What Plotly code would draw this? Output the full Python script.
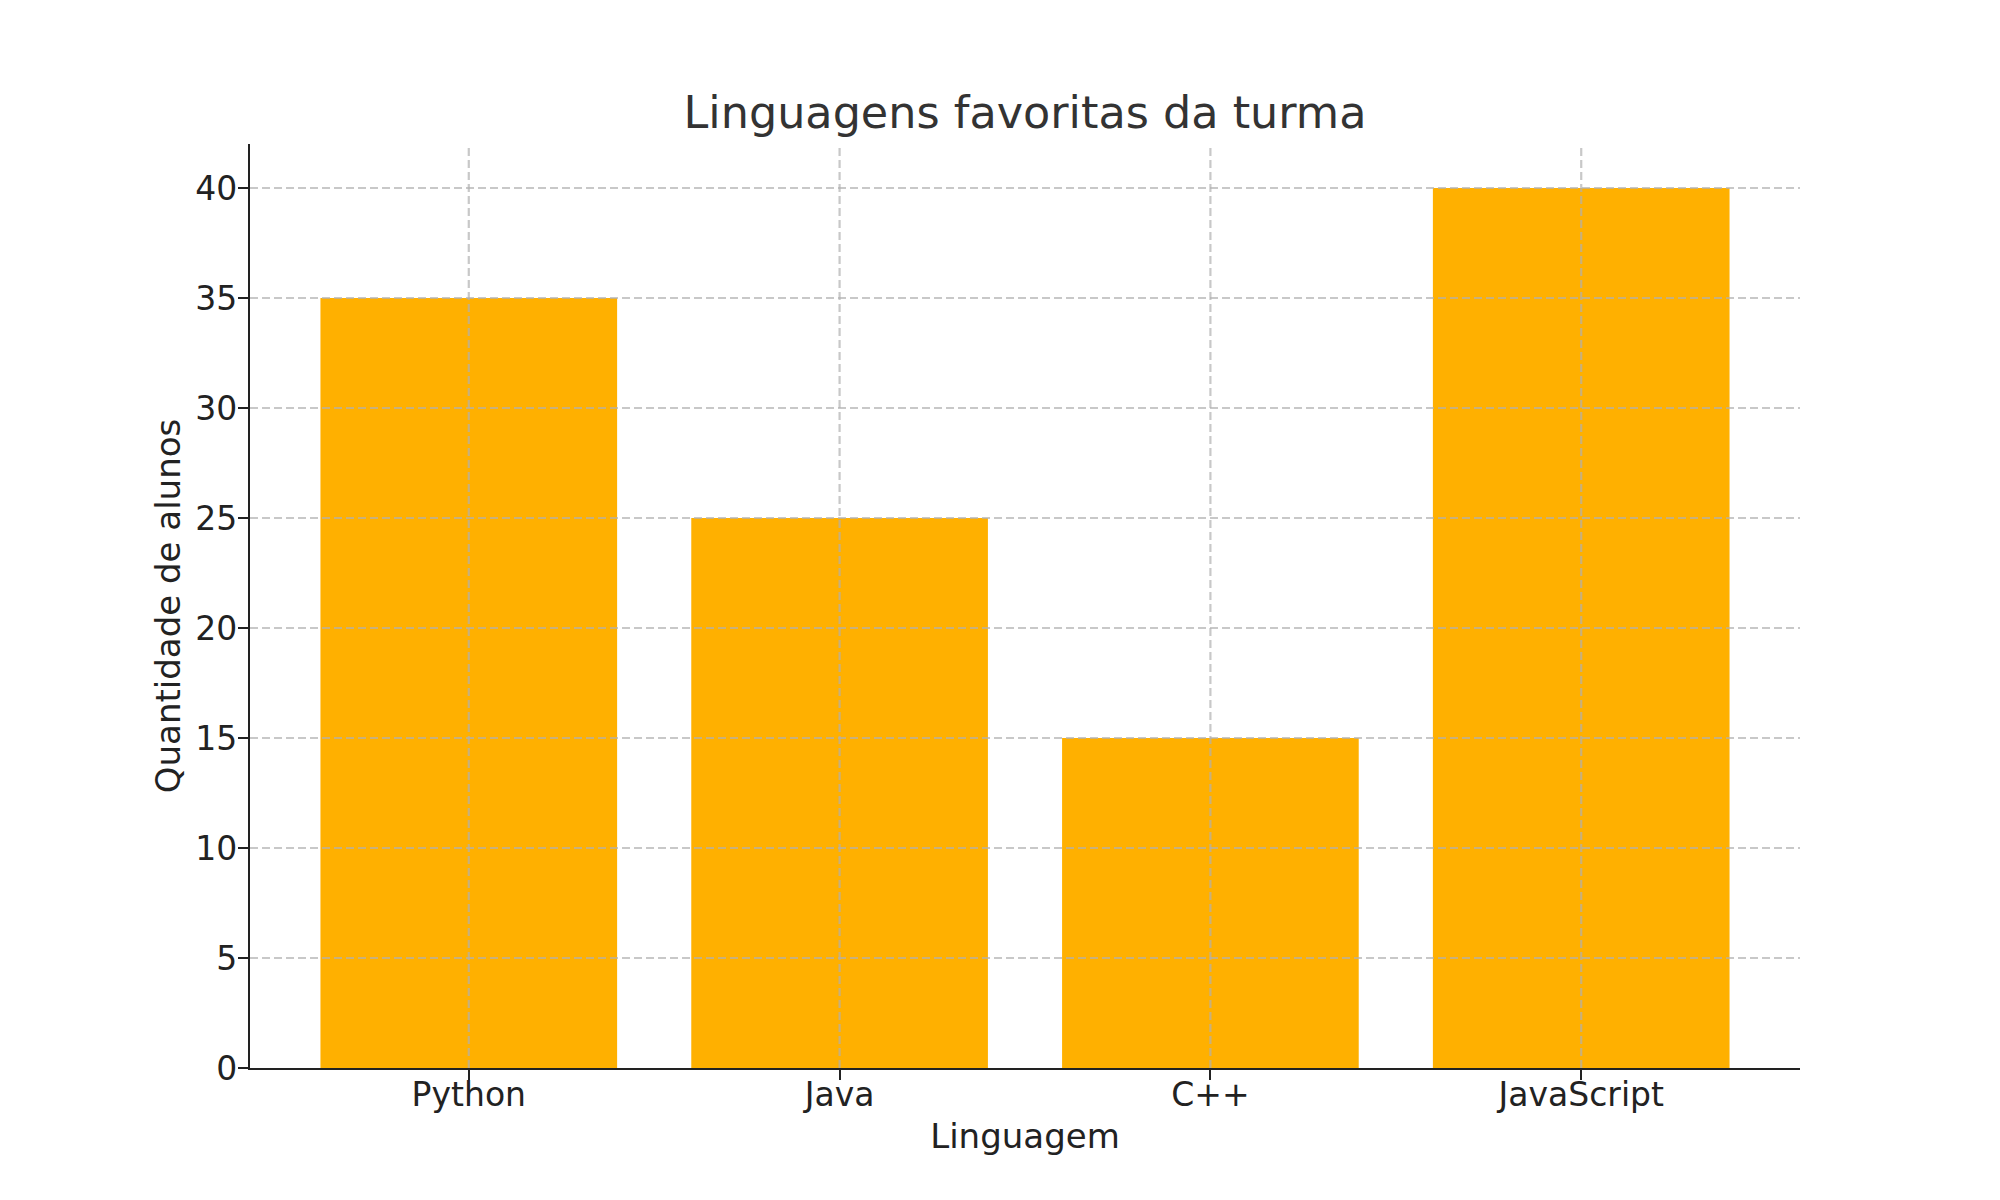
import plotly.graph_objects as go

categories = ["Python", "Java", "C++", "JavaScript"]
values = [35, 25, 15, 40]
y_ticks = [0, 5, 10, 15, 20, 25, 30, 35, 40]

BAR_COLOR = "#FFB000"
GRID_COLOR = "rgba(176,176,176,0.7)"
FONT = "DejaVu Sans"

fig = go.Figure()
fig.add_trace(go.Bar(x=list(range(len(categories))), y=values, width=0.8,
                     marker=dict(color=BAR_COLOR, line=dict(width=0)),
                     hoverinfo="x+y"))

shapes = []
for i in range(len(categories)):
    shapes.append(dict(type="line", xref="x", yref="paper", x0=i, x1=i, y0=0, y1=1,
                       line=dict(color=GRID_COLOR, width=2.2, dash="8px,4px"), layer="above"))
for t in y_ticks[1:]:
    shapes.append(dict(type="line", xref="paper", yref="y", x0=0, x1=1, y0=t, y1=t,
                       line=dict(color=GRID_COLOR, width=2.2, dash="8px,4px"), layer="above"))

fig.update_layout(
    width=2000, height=1200,
    margin=dict(l=242, r=208, t=136, b=140, pad=0),
    paper_bgcolor="white", plot_bgcolor="white",
    font=dict(family=FONT, color="#222222"),
    showlegend=False,
    shapes=shapes,
    title=dict(text="Linguagens favoritas da turma", x=1017 / 2000, xanchor="center",
               y=1 - 104 / 1200, yanchor="middle", yref="container",
               font=dict(size=44.5, color="#333333", family=FONT)),
    xaxis=dict(range=[-0.59, 3.59], tickmode="array",
               tickvals=list(range(len(categories))), ticktext=categories,
               showgrid=False, zeroline=False,
               showline=True, linecolor="#222222", linewidth=2.4,
               ticks="outside", ticklen=10, tickwidth=2.4, tickcolor="#222222",
               tickfont=dict(size=33, color="#222222"), ticklabelstandoff=-14,
               title=dict(text="Linguagem", font=dict(size=34, color="#222222"), standoff=11),
               automargin=False),
    yaxis=dict(range=[0, 42], tickmode="array", tickvals=y_ticks,
               ticktext=[str(t) for t in y_ticks],
               showgrid=False, zeroline=False,
               showline=True, linecolor="#222222", linewidth=2.4,
               ticks="outside", ticklen=10, tickwidth=2.4, tickcolor="#222222",
               tickfont=dict(size=33, color="#222222"), ticklabelstandoff=-6,
               title=dict(text="Quantidade de alunos", font=dict(size=34, color="#222222"), standoff=4),
               automargin=False),
)

fig.write_html("out.html")
